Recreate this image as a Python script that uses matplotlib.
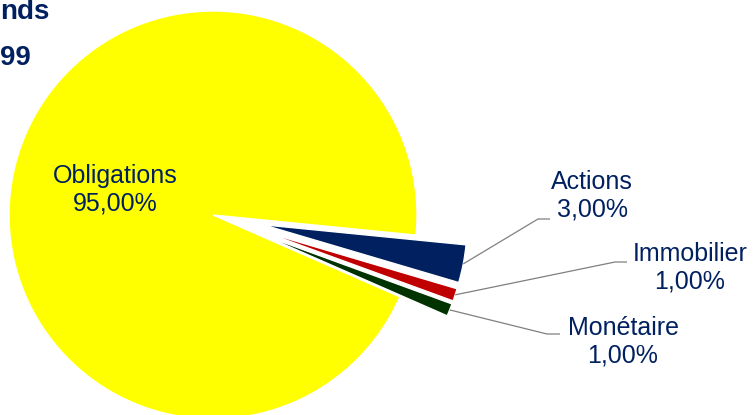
import numpy as np
import matplotlib
matplotlib.use("Agg")
import matplotlib.pyplot as plt

plt.rcParams['font.family'] = ['Liberation Sans', 'DejaVu Sans']

# data
labels = ["Obligations", "Actions", "Immobilier", "Monétaire"]
values = [95.0, 3.0, 1.0, 1.0]
colors = ["#FFFF00", "#002060", "#C00000", "#003300"]
explode = [0, 51, 51, 51]

W, H = 755, 415
navy = "#002060"

fig = plt.figure(figsize=(W / 100, H / 100), dpi=100)
ax = fig.add_axes([0, 0, 1, 1])

center = (213, H - 215)
radius = 204
start = -23.65

wedges, _ = ax.pie(values, colors=colors, explode=explode, center=center,
                   radius=radius, startangle=start, counterclock=False,
                   wedgeprops=dict(edgecolor="white", linewidth=1),
                   frame=True)
ax.set_xlim(0, W)
ax.set_ylim(0, H)
ax.set_aspect("equal")
ax.axis("off")

def fmt(v):
    return f"{v:.2f}".replace(".", ",") + "%"

# inside label for the big slice
ax.text(115, H - 190, f"{labels[0]}\n{fmt(values[0])}", ha="center", va="center",
        fontsize=18, color=navy, linespacing=1.2)

# outside labels with leader lines: (text center, elbow, line end)
layout = [((592, 196), (538, 219), (550, 219)),
          ((690, 268), (615, 262), (627, 262)),
          ((623, 342), (547, 334), (560, 334))]

for w, lab, val, (tc, elbow, end) in zip(wedges[1:], labels[1:], values[1:], layout):
    mid = np.deg2rad((w.theta1 + w.theta2) / 2)
    cx, cy = w.center
    ax0 = cx + w.r * np.cos(mid)
    ay0 = cy + w.r * np.sin(mid)
    ax.plot([ax0, elbow[0], end[0]], [ay0, H - elbow[1], H - end[1]],
            color="#808080", linewidth=0.9, solid_capstyle="butt")
    ax.text(tc[0], H - tc[1], f"{lab}\n{fmt(val)}", ha="center", va="center",
            fontsize=18, color=navy, linespacing=1.2)

# title fragments visible at the top-left corner
fig.text(0, 1 - 19 / H, "nds", ha="left", va="baseline",
         fontsize=20, fontweight="bold", color=navy)
fig.text(0, 1 - 65 / H, "99", ha="left", va="baseline",
         fontsize=20, fontweight="bold", color=navy)

fig.savefig("out.png", dpi=100)
